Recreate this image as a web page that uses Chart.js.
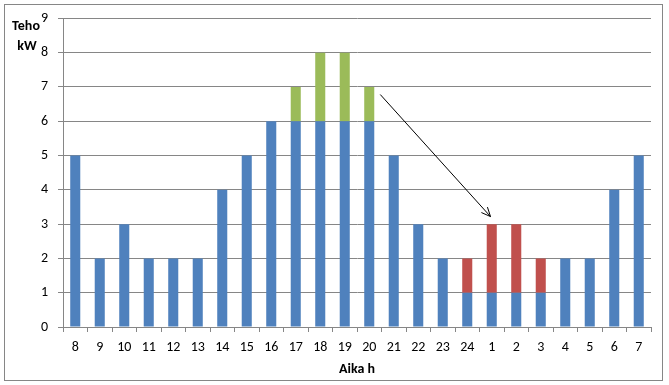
<!DOCTYPE html>
<html>
<head>
<meta charset="utf-8">
<script src="https://cdn.jsdelivr.net/npm/chart.js@4/dist/chart.umd.min.js"></script>
<style>
  html, body { margin: 0; padding: 0; background: #fff; }
  #wrap { width: 669px; height: 385px; position: relative; }
</style>
</head>
<body>
<div id="wrap"><canvas id="tehoChart" width="669" height="385"></canvas></div>
<script>
var hours = ['8','9','10','11','12','13','14','15','16','17','18','19','20','21','22','23','24','1','2','3','4','5','6','7'];
var baseLoad = [5,2,3,2,2,2,4,5,6,6,6,6,6,5,3,2,1,1,1,1,2,2,4,5];
var peakLoad = [null,null,null,null,null,null,null,null,null,1,2,2,1,null,null,null,null,null,null,null,null,null,null,null];
var shiftedLoad = [null,null,null,null,null,null,null,null,null,null,null,null,null,null,null,null,1,2,2,1,null,null,null,null];
var yTicks = [0,1,2,3,4,5,6,7,8,9];
// arrow from peak hours to night hours, in data units (category index, kW)
var arrowFrom = [12.45, 6.78];
var arrowTo = [16.95, 3.22];

var FONT = 'Carlito, "Open Sans", "Liberation Sans", sans-serif';

var extras = {
  id: 'extras',
  beforeDraw: function (chart) {
    var c = chart.ctx;
    c.save();
    c.fillStyle = '#fff';
    c.fillRect(0, 0, chart.width, chart.height);
    c.strokeStyle = '#868686';
    c.lineWidth = 1;
    c.strokeRect(4.5, 4.5, 658, 376);
    c.restore();
  },
  afterDraw: function (chart) {
    var c = chart.ctx;
    var xs = chart.scales.x, ys = chart.scales.y;
    var x1 = xs.getPixelForValue(arrowFrom[0]), y1 = ys.getPixelForValue(arrowFrom[1]);
    var x2 = xs.getPixelForValue(arrowTo[0]), y2 = ys.getPixelForValue(arrowTo[1]);
    c.save();
    c.strokeStyle = '#000';
    c.lineWidth = 1;
    c.beginPath();
    c.moveTo(x1, y1);
    c.lineTo(x2, y2);
    var a = Math.atan2(y2 - y1, x2 - x1), L = 10, w = 0.42;
    c.moveTo(x2 - L * Math.cos(a - w), y2 - L * Math.sin(a - w));
    c.lineTo(x2, y2);
    c.lineTo(x2 - L * Math.cos(a + w), y2 - L * Math.sin(a + w));
    c.stroke();
    // y axis title
    c.fillStyle = '#000';
    c.font = 'bold 14px ' + FONT;
    c.textAlign = 'center';
    c.textBaseline = 'middle';
    c.fillText('Teho', 26, 26);
    c.fillText('kW', 27, 46);
    c.restore();
  }
};

new Chart(document.getElementById('tehoChart'), {
  type: 'bar',
  data: {
    labels: hours,
    datasets: [
      { data: baseLoad, backgroundColor: '#4F81BD' },
      { data: peakLoad, backgroundColor: '#9BBB59' },
      { data: shiftedLoad, backgroundColor: '#C0504D' }
    ]
  },
  options: {
    responsive: false,
    animation: false,
    layout: { padding: { top: 16, right: 18, left: 0, bottom: 0 } },
    datasets: { bar: { categoryPercentage: 1, barPercentage: 0.41 } },
    plugins: { legend: { display: false }, tooltip: { enabled: false } },
    scales: {
      x: {
        stacked: true,
        offset: true,
        afterFit: function (s) { s.height = 58; },
        grid: { offset: true, drawOnChartArea: false, drawTicks: true, tickLength: 5, color: '#868686' },
        border: { color: '#868686' },
        ticks: { color: '#000', font: { family: FONT, size: 14 }, padding: 7, maxRotation: 0, autoSkip: false },
        title: { display: true, text: 'Aika h', color: '#000', font: { family: FONT, size: 14, weight: 'bold' }, padding: { top: 0, bottom: 7 } }
      },
      y: {
        stacked: true,
        min: 0,
        max: 9,
        afterFit: function (s) { s.width = 63; },
        afterBuildTicks: function (s) { s.ticks = yTicks.map(function (v) { return { value: v }; }); },
        grid: { color: '#868686', drawTicks: true, tickLength: 5 },
        border: { color: '#868686' },
        ticks: { color: '#000', font: { family: FONT, size: 14 }, padding: 10 }
      }
    }
  },
  plugins: [extras]
});
</script>
</body>
</html>
